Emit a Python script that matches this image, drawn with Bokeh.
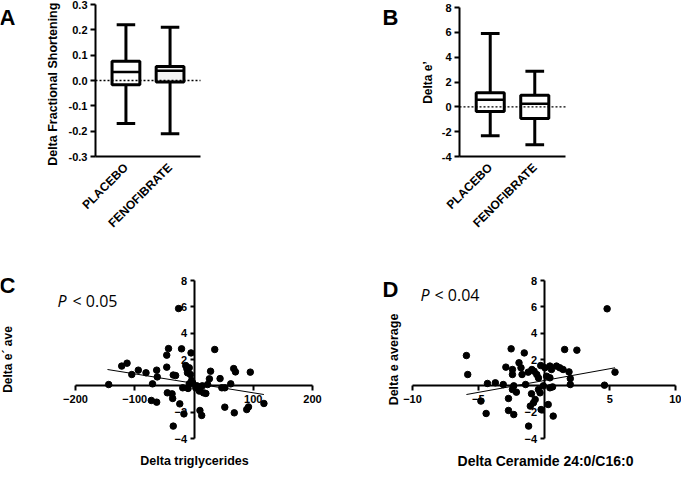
import math
from bokeh.plotting import figure
from bokeh.models import (Range1d, FixedTicker, PrintfTickFormatter, LinearAxis,
                          Label, ColumnDataSource)
from bokeh.embed import file_html
from bokeh.resources import INLINE

# ---------------- data ----------------
groups = ["PLACEBO", "FENOFIBRATE"]

fs_lower = [-0.17, -0.21]
fs_q1 = [-0.017, -0.006]
fs_median = [0.034, 0.038]
fs_q3 = [0.076, 0.055]
fs_upper = [0.22, 0.21]
fs_ticks = [-0.3, -0.2, -0.1, 0.0, 0.1, 0.2, 0.3]

e_lower = [-2.33, -3.06]
e_q1 = [-0.38, -0.94]
e_median = [0.58, 0.25]
e_q3 = [1.14, 0.94]
e_upper = [5.9, 2.86]
e_ticks = [-4, -2, 0, 2, 4, 6, 8]

tg_delta = [-144, -122, -113, -105, -94, -81, -70, -72, -63, -63, -62, -43, -46, -46,
            -45, -37, -36, -35, -35, -31, -24, -26, -21, -19, -17, -14, -12, -11, -8,
            -8, -6, -5, -10, -4, 3, 9, 10, 14, 16, 20, 23, 26, 28, 35, 44, 47, 52, 52,
            62, 67, 70, 68, 89, 92, 95, 118, 10, 13, -2, 5]
eave_c = [0.1, 1.5, 1.72, 0.86, 1.19, 0.99, 0.15, -1.11, -1.24, 1.19, 0.68, 2.83, 2.33,
          1.42, -0.53, -0.61, -0.96, -3.06, 0.82, 0.78, -1.37, 5.87, 2.81, -0.15, -2.13,
          1.54, 1.29, 0.99, 0.15, 1.37, 0.86, 2.5, -0.2, 0.4, -0.15, -0.4, -0.1, 0.0,
          -0.53, -0.58, 0.1, 0.53, 1.11, 2.76, 0.55, -0.15, -0.15, -1.62, 0.15, 1.31,
          1.06, -2.05, -1.8, -1.6, 1.04, -1.34, -1.87, -2.25, 0.2, 0.0]
fit_c_x = [-146, 118]
fit_c_y = [1.24, -0.66]

cer_delta = [-5.9, -5.8, -4.8, -4.4, -4.3, -3.7, -3.1, -2.9, -2.7, -2.7, -2.5, -2.4, -2.4,
             -2.3, -2.4, -2.3, -2.1, -1.9, -1.75, -1.67, -1.5, -1.4, -1.2, -1.17, -1.04,
             -0.95, -0.92, -0.75, -0.55, -0.8, -0.67, -0.42, -0.25, -0.22, -0.42, -0.3,
             -0.05, 0.07, 0.2, 0.32, 0.45, 0.57, 0.45, 0.65, 0.7, 0.95, 1.2, 1.45, 1.57,
             1.9, 2.0, 2.0, 2.5, 4.8, 4.6, 5.4, 0.45]
eave_d = [2.3, 0.86, -1.16, -2.1, 0.18, 0.23, 0.1, 1.42, -0.96, -1.87, 2.81, 1.24, 0.86,
          -2.18, -0.28, 0.0, -0.48, 1.75, 1.37, 0.86, 2.5, 0.1, 1.04, -3.06, -1.54, -0.6,
          1.24, 1.11, 0.86, -1.29, -1.04, 0.6, 1.54, -1.8, -0.28, -0.53, 0.0, 1.37, 0.73,
          -1.42, 1.5, 1.24, -0.15, -0.08, -2.3, 1.5, 1.37, 1.24, 2.76, 1.06, 0.55, 0.1,
          2.71, 5.85, 0.05, 1.04, 0.61]
fit_d_x = [-5.9, 5.4]
fit_d_y = [-0.66, 1.37]

scatter_y_ticks = [-4, -2, 2, 4, 6, 8]
tg_ticks = [-200, -100, 100, 200]
cer_ticks = [-10, -5, 5, 10]

# ---------------- layout (page pixels) ----------------
W, H = 681, 468
OFF = 8
FONT = "Liberation Sans"

# panel frames in page pixels and their value extents
PANELS = {
    "a": dict(px=(103, 208), py=(12, 164), vx=(0.31, 2.69), vy=(0.3, -0.3)),
    "b": dict(px=(467, 573), py=(15, 164), vx=(0.31, 2.69), vy=(8, -4)),
    "c": dict(px=(83, 320), py=(288, 446), vx=(-200, 200), vy=(8, -4)),
    "d": dict(px=(420, 683), py=(288, 446), vx=(-10, 10), vy=(8, -4)),
}

p = figure(width=W, height=H, output_backend="svg", toolbar_location=None,
           x_range=Range1d(0, W), y_range=Range1d(0, H),
           x_axis_location=None, y_axis_location=None, min_border=0)
p.outline_line_color = None
p.background_fill_color = "white"
p.border_fill_color = "white"
p.xgrid.visible = False
p.ygrid.visible = False

xr, yr = {}, {}
for name, g in PANELS.items():
    (l, r), (t, b), (v0, v1), (vt, vb) = g["px"], g["py"], g["vx"], g["vy"]
    l, r, t, b = l - OFF, r - OFF, t - OFF, b - OFF
    sx = (v1 - v0) / (r - l)
    xr[name] = Range1d(v0 - l * sx, v0 + (W - l) * sx)
    sy = (vt - vb) / (b - t)
    yr[name] = Range1d(vb - (H - b) * sy, vt + t * sy)
p.extra_x_ranges = xr
p.extra_y_ranges = yr


def style_axis(ax, label_size="11px"):
    ax.axis_line_width = 2
    ax.axis_line_color = "black"
    ax.major_tick_line_width = 2
    ax.major_tick_line_color = "black"
    ax.minor_tick_line_color = None
    ax.major_tick_in = 0
    ax.major_tick_out = 5
    ax.minor_tick_out = 0
    ax.minor_tick_in = 0
    ax.major_label_text_font = FONT
    ax.major_label_text_font_style = "bold"
    ax.major_label_text_font_size = label_size
    ax.major_label_text_color = "black"


def text(s, x, y, size, angle=0.0, align="left", baseline="alphabetic", font=FONT,
         style="bold"):
    # x, y in page pixels
    p.add_layout(Label(x=x - OFF, y=H - (y - OFF), x_units="screen", y_units="screen",
                       text=s, angle=angle, text_align=align, text_baseline=baseline,
                       text_font=font, text_font_style=style, text_font_size=size,
                       text_color="black"))


def box_panel(name, lo, q1, med, q3, hi, yticks, fmt, fills):
    g = PANELS[name]
    x0, x1 = g["vx"]
    ybot, ytop = g["vy"][1], g["vy"][0]
    kw = dict(x_range_name=name, y_range_name=name)
    pos = [i + 1 for i in range(len(groups))]
    src = ColumnDataSource(dict(
        x=pos, lo=lo, q1=q1, med=med, q3=q3, hi=hi, fill=fills,
        cl=[v - 0.21 for v in pos], cr=[v + 0.21 for v in pos],
        bl=[v - 0.315 for v in pos], br=[v + 0.315 for v in pos]))
    p.segment(x0="x", y0="lo", x1="x", y1="hi", source=src, line_width=3,
              line_color="black", **kw)
    p.segment(x0="cl", y0="hi", x1="cr", y1="hi", source=src, line_width=3,
              line_color="black", **kw)
    p.segment(x0="cl", y0="lo", x1="cr", y1="lo", source=src, line_width=3,
              line_color="black", **kw)
    p.vbar(x="x", width=0.63, bottom="q1", top="q3", source=src, fill_color="fill",
           line_color="black", line_width=3, **kw)
    p.segment(x0="bl", y0="med", x1="br", y1="med", source=src, line_width=2.5,
              line_color="black", **kw)
    # dotted zero reference line across the panel
    p.segment(x0=[x0], y0=[0], x1=[x1], y1=[0], line_color="black", line_width=1.4,
              line_dash="2 2", **kw)

    xa = LinearAxis(fixed_location=ybot, bounds=(x0, x1), ticker=FixedTicker(ticks=pos),
                    **kw)
    style_axis(xa, "12px")
    xa.major_label_overrides = {v: s for v, s in zip(pos, groups)}
    xa.major_label_orientation = math.pi / 4
    xa.major_tick_line_color = None
    xa.major_tick_out = 0
    xa.major_label_standoff = 9
    p.add_layout(xa, "below")

    ya = LinearAxis(fixed_location=x0, bounds=(ybot, ytop), ticker=FixedTicker(ticks=yticks),
                    formatter=PrintfTickFormatter(format=fmt), **kw)
    style_axis(ya)
    ya.major_label_standoff = 3
    p.add_layout(ya, "left")


def scatter_panel(name, xs, ys, fx, fy, xticks):
    g = PANELS[name]
    kw = dict(x_range_name=name, y_range_name=name)
    x0, x1 = g["vx"]
    ytop, ybot = g["vy"]
    xa = LinearAxis(fixed_location=0, bounds=(x0, x1), ticker=FixedTicker(ticks=xticks), **kw)
    style_axis(xa)
    xa.major_label_standoff = 4
    ya = LinearAxis(fixed_location=0, bounds=(ybot, ytop),
                    ticker=FixedTicker(ticks=scatter_y_ticks), **kw)
    style_axis(ya)
    ya.major_tick_out = 4
    ya.major_label_standoff = 3
    p.add_layout(xa, "below")
    p.add_layout(ya, "left")
    p.line(fx, fy, line_color="black", line_width=1, **kw)
    p.scatter(xs, ys, size=6.5, fill_color="black", line_color="black", **kw)


box_panel("a", fs_lower, fs_q1, fs_median, fs_q3, fs_upper, fs_ticks, "%.1f",
          ["white", "#f3f3f3"])
box_panel("b", e_lower, e_q1, e_median, e_q3, e_upper, e_ticks, "%d", ["white", "white"])
scatter_panel("c", tg_delta, eave_c, fit_c_x, fit_c_y, tg_ticks)
scatter_panel("d", cer_delta, eave_d, fit_d_x, fit_d_y, cer_ticks)

# axis titles
up = math.pi / 2
text("Delta Fractional  Shortening", 60, 90, "12.5px", angle=up, align="center",
     baseline="middle")
text("Delta e\u2019", 435, 90, "12px", angle=up, align="center", baseline="middle")
text("Delta e\u00b4 ave", 15, 367, "12px", angle=up, align="center", baseline="middle")
text("Delta e average", 401, 367, "12.5px", angle=up, align="center", baseline="middle")
text("Delta triglycerides", 202, 468, "12.5px", align="center", baseline="middle")
text("Delta Ceramide 24:0/C16:0", 553, 468, "14px", align="center", baseline="middle")

# panel letters
text("A", 7, 25, "22px")
text("B", 390, 25, "22px")
text("C", 7, 293, "22px")
text("D", 390, 297, "22px")

# significance annotations
text("P", 65, 308, "16px", font="Open Sans", style="italic")
text("< 0.05", 80, 308, "16px", font="Open Sans", style="normal")
text("P", 428, 302, "16px", font="Open Sans", style="italic")
text("< 0.04", 442, 302, "16px", font="Open Sans", style="normal")

with open("out.html", "w") as f:
    f.write(file_html(p, INLINE))
